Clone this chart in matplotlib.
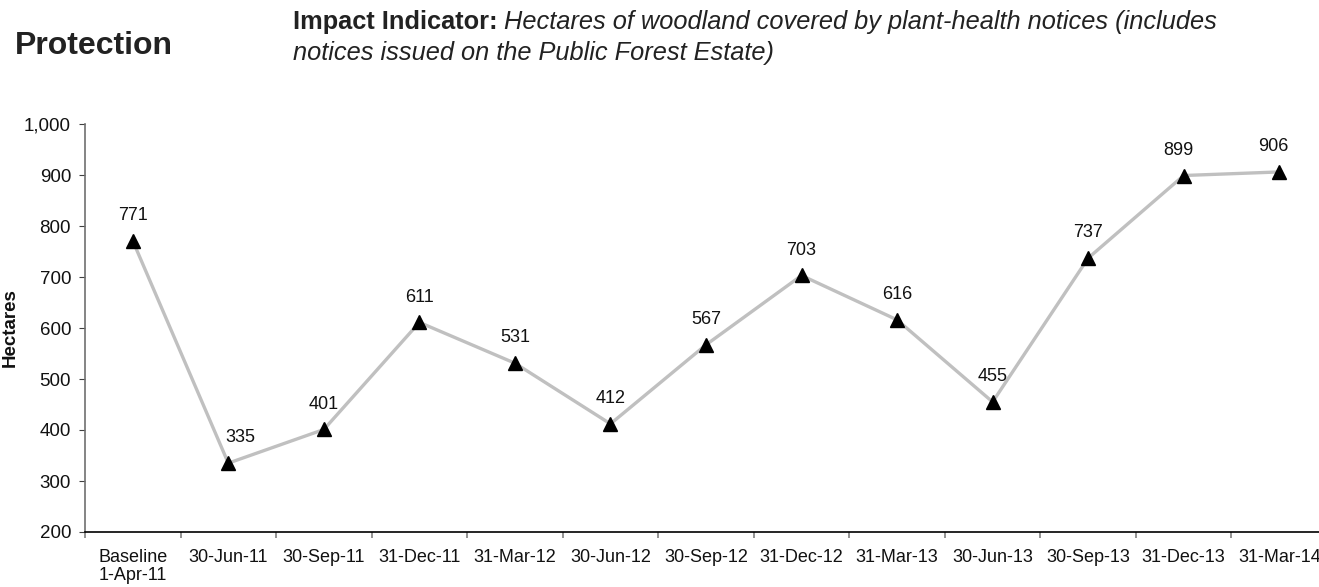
import matplotlib
matplotlib.use("Agg")
import matplotlib.pyplot as plt
import numpy as np

categories = ["Baseline\n1-Apr-11", "30-Jun-11", "30-Sep-11", "31-Dec-11", "31-Mar-12",
              "30-Jun-12", "30-Sep-12", "31-Dec-12", "31-Mar-13", "30-Jun-13",
              "30-Sep-13", "31-Dec-13", "31-Mar-14"]
values = [771, 335, 401, 611, 531, 412, 567, 703, 616, 455, 737, 899, 906]
yticks = [200, 300, 400, 500, 600, 700, 800, 900, 1000]

plt.rcParams['font.family'] = ['Liberation Sans', 'DejaVu Sans']

W, H = 1319, 587
fig = plt.figure(figsize=(W/100, H/100), dpi=100)
left = 85 / W
bottom = (H - 532) / H
top = (H - 124) / H
right = 1327 / W
ax = fig.add_axes([left, bottom, right - left, top - bottom])

x = np.arange(len(categories))
ax.plot(x, values, color='#c0c0c0', lw=2.4, zorder=2, solid_joinstyle='miter')
ax.plot(x, values, linestyle='none', marker='^', color='black', markersize=10, zorder=3)
label_dx = [0, 9, 0, 0, 0, 0, 0, 0, 0, 0, 0, -4, -4]
for xi, v, dx in zip(x, values, label_dx):
    ax.annotate(f"{v}", (xi, v), xytext=(dx, 15), textcoords='offset points',
                ha='center', va='baseline', fontsize=13, color='#111111')

ax.set_xlim(-0.5, len(categories) - 0.5)
ax.set_ylim(200, 1000)
ax.set_yticks(yticks)
ax.set_yticklabels([f"{t:,}" for t in yticks])
ax.set_xticks(x)
ax.set_xticklabels(categories, linespacing=1.1)
ax.set_xticks(np.arange(len(categories) + 1) - 0.5, minor=True)
ax.tick_params(axis='x', which='major', length=0, pad=12, labelsize=13, labelcolor='#111111')
ax.tick_params(axis='x', which='minor', length=4, direction='out', color='#808080', width=1.2)
ax.tick_params(axis='y', length=4, direction='out', color='#404040', labelsize=13.5,
               pad=6, labelcolor='#111111')
for s in ['top', 'right']:
    ax.spines[s].set_visible(False)
ax.spines['left'].set_color('#707070')
ax.spines['left'].set_linewidth(1.2)
ax.spines['bottom'].set_color('#000000')
ax.spines['bottom'].set_linewidth(1.2)
ax.set_ylabel("Hectares", fontsize=13.5, fontweight='bold', color='#111111')
ax.yaxis.set_label_coords(-(85 - 19) / ((right - left) * W), 0.5)

fig.text(15 / W, 1 - 54 / H, "Protection", fontsize=23, fontweight='bold',
         va='baseline', ha='left', color='#222222')
t1 = fig.text(293 / W, 1 - 29 / H, "Impact Indicator:", fontsize=18.3, fontweight='bold',
              va='baseline', ha='left', color='#222222')
fig.canvas.draw()
bb = t1.get_window_extent(renderer=fig.canvas.get_renderer())
fig.text(bb.x1 / W + 6 / W, 1 - 29 / H,
         "Hectares of woodland covered by plant-health notices (includes",
         fontsize=18.3, style='italic', va='baseline', ha='left', color='#222222')
fig.text(293 / W, 1 - 60 / H, "notices issued on the Public Forest Estate)",
         fontsize=18.3, style='italic', va='baseline', ha='left', color='#222222')
fig.savefig("out.png", dpi=100)
